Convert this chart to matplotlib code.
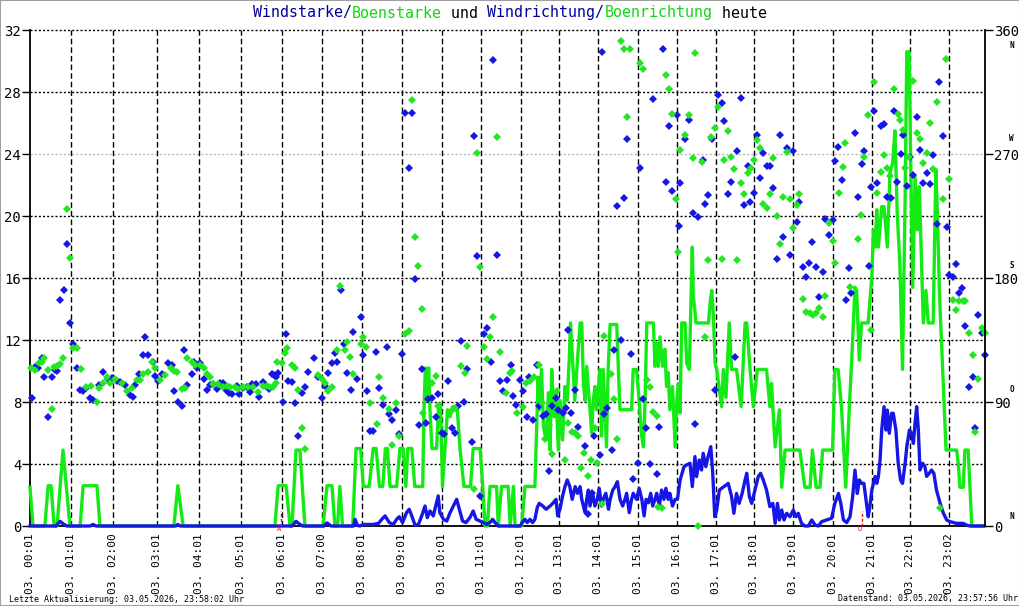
import matplotlib
matplotlib.use("Agg")
import matplotlib.pyplot as plt
from matplotlib.patches import Rectangle

# --- Achsenbeschriftung (Messwert-Index, ca. 5 min pro Schritt) ---
tick_pos = [0, 12.3, 25.2, 38.4, 51.1, 63.8, 76.4, 88.4, 100.5, 112.6, 124.8, 136.6,
            148.7, 160.4, 172.2, 184.2, 196.0, 207.8, 219.5, 231.3, 243.2, 255.1, 266.8, 278.6]
tick_labels = ["03. 00:01", "03. 01:01", "03. 02:00", "03. 03:01", "03. 04:01", "03. 05:01",
               "03. 06:01", "03. 07:00", "03. 08:01", "03. 09:01", "03. 10:01", "03. 11:01",
               "03. 12:01", "03. 13:01", "03. 14:01", "03. 15:01", "03. 16:01", "03. 17:01",
               "03. 18:01", "03. 19:01", "03. 20:01", "03. 21:01", "03. 22:01", "03. 23:02"]

# --- Boenstarke (gruen) ---
gust_idx = [0.0, 0.9, 4.5, 5.5, 6.4, 7.3, 8.2, 10.0, 12.1, 15.2, 16.1, 20.3, 21.2, 43.6, 44.8, 46.4,
            74.2, 75.2, 77.6, 78.8, 79.4, 80.6, 81.8, 83.3, 88.8, 90.0, 91.5, 92.4, 93.2, 93.9, 94.7,
            97.8, 98.8, 100.2, 101.0, 102.8, 104.0, 104.9, 105.9, 106.9, 107.7, 108.3, 109.1, 111.1,
            112.1, 113.1, 113.9, 114.5, 115.7, 116.6, 119.0, 119.4, 119.8, 120.4, 120.8, 121.2, 121.8,
            123.2, 123.8, 124.4, 125.0, 125.8, 126.5, 127.3, 128.1, 128.8, 129.5, 130.3, 131.5, 133.5,
            134.3, 136.4, 137.2, 137.9, 138.6, 139.4, 141.4, 141.9, 142.9, 144.9, 145.5, 146.5, 147.0,
            149.0, 150.0, 153.0, 154.0, 154.3, 155.0, 155.6, 156.4, 157.1, 157.6, 158.1, 158.8, 159.4,
            160.1, 160.6, 161.4, 162.1, 162.8, 163.4, 163.8, 164.6, 165.1, 165.9, 166.7, 167.2, 167.7,
            168.2, 168.7, 169.7, 170.2, 170.7, 171.2, 171.7, 172.7, 173.2, 173.7, 174.7, 175.2, 175.8,
            177.8, 178.3, 178.8, 182.3, 182.8, 183.8, 184.6, 185.3, 185.9, 186.4, 186.9, 188.9, 189.4,
            189.9, 190.4, 190.9, 191.7, 192.4, 192.9, 193.4, 193.9, 194.7, 195.5, 196.0, 196.5,
            197.0, 197.5, 198.5, 199.0, 199.8, 200.7, 201.0, 201.5, 201.8, 205.6, 206.1, 206.6, 207.1,
            207.6, 208.1, 209.6, 210.1, 210.9, 211.9, 212.6, 214.1, 215.5, 216.7, 217.2, 218.2, 219.2,
            220.4, 223.2, 224.2, 224.7, 225.8, 227.1, 227.8, 228.8, 233.3, 234.8, 236.4, 237.1, 238.2,
            239.4, 240.2, 243.2, 243.9, 244.9, 245.9, 247.2, 248.3, 249.0, 249.5, 250.0, 250.5, 251.3,
            252.0, 254.0, 255.1, 255.6, 256.1, 256.6, 257.1, 258.1, 258.8, 259.8, 260.6, 261.4, 262.1,
            262.8, 263.6, 264.4, 265.2, 265.7, 266.4, 266.9, 267.5, 268.2, 268.9, 269.5, 270.7, 271.5,
            272.2, 273.7, 274.5, 275.0, 275.6, 276.8, 277.6, 280.8, 281.3, 281.8, 282.8, 283.3, 284.3,
            285.4, 289.0]
gust_val = [2.5, 0, 0, 2.6, 2.6, 0, 0, 4.9, 0, 0, 2.6, 2.6, 0, 0, 2.6, 0,
            0, 2.6, 2.6, 0, 0, 4.9, 4.9, 0, 0, 2.6, 2.6, 0, 0, 2.55, 0,
            0, 5.0, 5.0, 2.55, 2.55, 5.0, 5.0, 2.55, 2.55, 5.0, 5.0, 2.55, 2.55,
            5.0, 5.0, 2.55, 5.0, 5.0, 2.55, 2.55, 7.5, 10.2, 8.1, 10.2, 7.5, 5.0,
            5.0, 7.7, 7.9, 2.55, 5.1, 7.5, 7.05, 7.7, 7.5, 7.5, 5.0, 2.55, 2.55,
            5.0, 5.0, 2.55, 0, 0, 2.55, 2.55, 0, 2.55, 2.55, 0, 2.55, 0,
            0, 2.55, 2.55, 9.6, 7.5, 10.1, 6.4, 5.55, 8.6, 4.9, 10.1, 7.05, 8.6,
            4.9, 8.1, 5.55, 9.0, 8.1, 10.7, 13.1, 10.1, 8.1, 10.7, 13.1, 13.1, 9.2,
            8.1, 10.3, 7.5, 6.0, 8.1, 9.0, 7.5, 10.1, 5.8, 10.1, 5.1, 10.1, 13.0,
            13.0, 10.1, 7.5, 7.5, 10.1, 10.1, 8.1, 5.9, 5.1, 8.1, 13.1, 13.1, 10.3,
            11.8, 10.3, 12.2, 10.3, 11.4, 9.0, 9.9, 7.5, 9.0, 5.1, 8.1, 9.2,
            7.3, 13.1, 13.1, 10.5, 10.1, 18.0, 14.8, 13.9, 13.1, 13.1, 14.4, 15.2, 13.5,
            10.5, 10.1, 7.7, 10.1, 8.3, 13.1, 10.1, 10.1, 7.7, 13.1, 13.1, 10.1, 7.7,
            10.1, 10.1, 7.7, 9.2, 5.1, 7.5, 2.5, 4.9, 4.9, 2.5, 2.5, 4.9, 2.5,
            2.5, 4.9, 4.9, 10.1, 10.1, 7.7, 2.5, 7.7, 10.7, 13.1, 15.4, 15.2, 10.7,
            13.1, 13.1, 16.1, 19.1, 18.0, 20.4, 18.0, 20.6, 20.6, 18.0, 22.8, 23.4, 25.5,
            20.2, 16.9, 10.1, 21.2, 30.6, 30.6, 23.4, 15.4, 22.5, 19.1, 21.9, 13.1, 15.2,
            13.1, 13.1, 23.0, 20.0, 15.0, 9.0, 4.9, 4.9, 4.0, 2.5, 2.5, 4.9, 4.9,
            0, 0]

# --- Windstarke (blau) ---
wind_idx = [0, 7.9, 9.1, 10.3, 11.2, 18.2, 19.1, 20.0, 44.2, 44.8, 45.5, 79.4, 80.6, 81.8, 82.7,
            89.1, 90.0, 91.2, 98.0, 98.5, 99.2, 100.0, 101.0, 104.0, 105.6, 106.6, 107.6, 108.9,
            110.1, 111.1, 111.9, 112.9, 114.1, 114.9, 115.7, 116.7, 117.7, 118.7, 119.7, 120.4,
            121.2, 122.2, 123.2, 123.7, 124.2, 125.3, 126.3, 127.3, 128.3, 129.3, 130.1, 131.1,
            132.1, 133.3, 134.3, 135.2, 136.4, 137.4, 138.4, 139.4, 140.2, 140.9, 141.9, 148.5,
            149.3, 150.0, 150.7, 151.5, 152.3, 153.0, 153.7, 154.3, 155.4, 156.4, 157.6, 158.6,
            159.4, 159.9, 160.6, 161.4, 162.1, 162.8, 163.6, 164.3, 165.2, 165.9, 166.7, 167.2,
            168.2, 168.7, 169.2, 169.7, 170.5, 171.2, 171.9, 172.5, 173.2, 173.7, 174.5, 175.3,
            175.8, 176.6, 177.3, 178.0, 178.8, 179.6, 180.3, 180.8, 181.6, 182.3, 182.8, 183.8,
            184.6, 185.4, 186.1, 186.7, 187.4, 188.1, 188.7, 189.4, 189.9, 190.7, 191.4, 192.1,
            192.7, 193.4, 193.9, 194.7, 195.5, 196.2, 197.0, 198.2, 199.0, 200.0, 200.7, 201.5,
            202.0, 202.8, 203.5, 204.0, 204.8, 205.5, 206.3, 206.9, 207.5, 208.1, 208.9, 209.6,
            211.6, 212.6, 213.3, 214.1, 214.9, 215.8, 216.7, 217.2, 218.0, 218.7, 219.7, 220.7,
            221.4, 222.2, 223.2, 224.2, 225.1, 225.8, 226.5, 227.1, 227.8, 228.5, 229.3, 230.3,
            231.3, 232.1, 232.8, 233.8, 234.8, 235.9, 236.9, 237.9, 238.9, 239.9, 241.4, 242.9,
            243.9, 245.0, 245.7, 246.5, 247.5, 248.5, 249.3, 250.0, 250.7, 251.3, 252.0, 252.7,
            253.5, 254.0, 254.5, 255.1, 255.6, 256.1, 256.6, 257.1, 257.6, 258.1, 258.8, 259.4,
            259.8, 260.4, 261.1, 261.6, 262.4, 263.1, 263.8, 264.4, 265.2, 265.7, 266.5, 267.2,
            267.7, 268.2, 268.7, 269.2, 269.7, 270.5, 271.2, 271.7, 272.5, 273.2, 273.9, 274.7,
            275.8, 276.8, 277.8, 278.8, 280.8, 282.8, 283.8, 284.8, 289.0]
wind_val = [0, 0, 0.3, 0.1, 0, 0, 0.1, 0, 0, 0.1, 0, 0, 0.3, 0.1, 0,
            0, 0.2, 0, 0, 0.43, 0.04, 0, 0.1, 0.1, 0.17, 0.43, 0.65, 0.22,
            0.1, 0.43, 0.6, 0.22, 0.86, 1.08, 0.65, 0.04, 0.1, 0.65, 1.29, 0.54,
            0.97, 0.65, 1.5, 1.94, 0.86, 0.43, 0.32, 0.86, 1.29, 1.72, 1.08, 0.32,
            0.22, 0.54, 0.97, 0.43, 0.32, 0.22, 0.1, 0.22, 0.43, 0.22, 0, 0,
            0.26, 0.43, 0.22, 0.43, 0.22, 0.43, 1.18, 1.46, 1.29, 1.08, 1.29, 1.5,
            1.72, 0.65, 1.08, 1.94, 2.54, 2.97, 2.54, 1.72, 2.54, 2.11, 2.54, 1.72,
            0.86, 1.72, 2.32, 1.29, 2.11, 1.29, 1.72, 2.43, 1.29, 1.72, 2.11, 1.08,
            1.72, 2.32, 2.54, 2.86, 1.72, 1.29, 1.72, 2.11, 0.86, 1.72, 2.11, 1.72,
            2.43, 1.72, 0.65, 1.72, 1.5, 2.11, 1.29, 1.72, 2.11, 1.29, 2.32, 1.72,
            2.43, 1.72, 2.11, 1.29, 1.72, 1.72, 2.97, 3.83, 3.94, 4.05, 2.54, 4.48,
            3.19, 4.26, 3.61, 4.69, 3.83, 4.48, 5.12, 3.4, 0.6, 1.03, 2.32, 2.43,
            2.75, 1.9, 0.82, 2.1, 1.46, 2.1, 2.97, 3.4, 1.9, 1.46, 2.32, 3.2,
            3.4, 2.97, 2.32, 1.25, 1.46, 0.17, 1.46, 0.39, 1.03, 0.39, 0.82, 0.6,
            1.03, 0.6, 0.82, 0.17, 0, 0, 0.39, 0.06, 0, 0.28, 0.39, 0.5,
            1.46, 2.1, 1.46, 0.39, 0.22, 0.6, 1.9, 3.61, 2.1, 2.97, 2.75, 2.75,
            1.46, 0.6, 1.25, 2.32, 2.75, 3.2, 2.75, 3.2, 4.26, 6.19, 7.7, 6.19,
            7.48, 5.98, 7.27, 7.27, 6.19, 4.05, 2.97, 2.75, 4.05, 5.12, 6.19, 5.98,
            5.33, 6.62, 7.7, 6.19, 3.61, 4.05, 3.83, 3.2, 3.4, 3.61, 3.4, 2.32,
            1.46, 0.82, 0.39, 0.28, 0.17, 0.17, 0.06, 0, 0]

# --- Windrichtung (blau, Grad) ---
dir_idx = [0.5, 1.5, 2.5, 3.5, 4.3, 5.4, 6.6, 7.6, 8.3, 9.1, 10.4, 11.3, 12.1, 13.1, 14.3, 15.2,
           16.2, 17.0, 18.2, 19.2, 21.0, 22.2, 23.7, 24.8, 26.3, 27.3, 28.8, 30.3, 31.1, 31.8, 33.1,
           34.2, 34.8, 35.8, 37.2, 37.9, 38.9, 39.9, 41.9, 42.9, 43.6, 44.9, 46.0, 46.7, 47.7, 49.0,
           49.8, 50.7, 51.5, 52.7, 53.7, 54.5, 55.5, 56.6, 57.6, 58.4, 59.4, 60.4, 61.1, 62.6, 63.4,
           64.6, 65.7, 66.7, 67.2, 68.5, 69.5, 70.5, 71.5, 72.5, 73.2, 73.9, 74.5, 75.2, 76.6, 77.5,
           78.3, 79.3, 80.3, 81.3, 82.3, 83.3, 84.3, 86.1, 87.4, 88.4, 89.4, 90.4, 91.4, 92.4, 93.1,
           94.2, 95.2, 96.0, 97.2, 98.0, 99.2, 100.2, 101.0, 102.0, 103.0, 104.0, 104.8, 105.8, 107.1,
           108.1, 108.9, 109.8, 110.9, 111.9, 112.8, 113.7, 114.9, 115.8, 116.8, 117.8, 118.8, 119.9,
           120.7, 121.7, 122.9, 123.7, 124.8, 125.5, 126.8, 127.8, 128.8, 129.8, 130.7, 131.5, 132.5,
           133.8, 134.6, 135.5, 136.4, 137.6, 138.6, 139.6, 140.4, 141.6, 142.4, 143.4, 144.5, 145.7,
           146.5, 147.3, 148.5, 149.5, 150.5, 151.3, 152.3, 153.5, 154.3, 155.4, 156.3, 157.4, 158.2,
           159.3, 160.1, 161.4, 162.4, 163.1, 163.9, 165.2, 166.2, 168.2, 169.2, 170.2, 171.0, 172.7,
           173.2, 174.0, 174.8, 176.3, 177.1, 177.9, 179.0, 180.1, 181.0, 182.0, 182.6, 184.2, 184.9,
           185.9, 186.7, 187.9, 188.9, 189.9, 190.7, 191.7, 192.7, 193.6, 194.5, 196.0, 196.8,
           197.0, 198.5, 199.8, 200.8, 201.5, 202.5, 203.8, 204.5, 205.5, 206.6, 207.6, 208.6, 209.6,
           210.4, 211.6, 212.4, 213.6, 214.3, 215.5, 216.5, 217.5, 218.2, 219.4, 220.4, 221.2, 222.2,
           223.4, 224.2, 225.2, 226.5, 227.3, 228.3, 229.3, 230.3, 231.3, 232.3, 233.1, 234.3, 235.2,
           236.2, 237.1, 238.2, 239.2, 240.2, 241.0, 242.2, 243.2, 243.9, 244.9, 246.2, 247.2, 248.2,
           248.9, 250.0, 251.0, 252.0, 252.7, 254.2, 254.8, 255.8, 256.8, 258.0, 258.8, 259.8, 260.8,
           261.9, 262.8, 263.8, 264.6, 265.8, 266.7, 267.7, 268.7, 269.7, 270.7, 271.7, 272.7, 273.7,
           274.8, 275.5, 276.8, 277.8, 278.6, 279.6, 280.6, 281.6, 282.4, 283.4, 284.6, 285.7, 286.5,
           287.4, 288.4, 289.4]
dir_deg = [92.7, 115.6, 114.5, 121.7, 107.9, 78.9, 107.9, 113.2, 112.7, 164.0, 171.3, 204.5, 147.1,
           132.1, 114.5, 98.7, 98.2, 99.9, 92.7, 91.5, 102.1, 112.0, 106.5, 107.6, 105.5, 104.7,
           102.3, 95.1, 93.8, 102.3, 110.3, 124.1, 137.0, 124.1, 119.3, 108.9, 105.5, 110.3, 118.1,
           116.9, 98.2, 90.2, 87.1, 127.7, 102.3, 110.3, 119.3, 114.5, 118.1, 106.5, 98.7, 102.3,
           103.1, 99.2, 103.6, 103.6, 98.7, 96.3, 95.8, 101.6, 95.8, 99.9, 100.7, 97.5, 102.8, 103.1,
           93.8, 104.7, 101.6, 99.2, 110.3, 109.6, 107.9, 111.3, 90.2, 139.1, 105.5, 104.7, 89.5,
           65.3, 96.7, 100.7, 112.0, 121.7, 107.9, 92.7, 101.6, 111.3, 118.1, 125.8, 119.3,
           171.3, 132.1, 110.8, 98.7, 140.6, 106.5, 151.5, 123.9, 98.0, 68.7, 68.7, 126.1, 99.9, 87.6,
           129.7, 81.3, 76.9, 84.2, 66.6, 124.6, 299.5, 259.6, 299.5, 179.3, 73.1, 113.7, 74.5,
           92.0, 92.7, 78.9, 95.6, 67.7, 66.6, 105.2, 70.9, 67.7, 87.1, 134.1, 89.8, 113.7,
           60.7, 282.8, 195.7, 21.8, 139.1, 143.5, 119.0, 338.0, 196.5, 105.2, 98.0, 106.0, 116.6,
           94.1, 87.6, 106.0, 98.0, 78.9, 108.4, 76.9, 116.6, 87.1, 79.8, 81.3, 39.9, 87.1,
           92.7, 84.2, 82.2, 85.4, 142.3, 82.2, 98.7, 71.6, 58.1, 8.7, 23.7, 65.3, 51.5,
           343.8, 81.3, 85.6, 55.2, 127.7, 232.0, 135.0, 237.9, 280.7, 124.8, 33.9, 45.5, 259.6,
           92.2, 71.3, 45.0, 309.7, 37.7, 71.6, 346.0, 249.5, 290.1, 242.9, 298.1, 217.7,
           248.7, 280.7, 294.7, 227.0, 73.8, 224.1, 265.6, 233.7, 240.2, 280.7, 98.7, 312.8, 306.8,
           294.0, 241.0, 249.5, 122.4, 272.2, 310.4, 233.0, 261.3, 235.4, 241.5, 283.8, 252.4, 270.5,
           261.3, 261.3, 245.1, 193.8, 283.6, 209.5, 274.1, 196.7, 272.2, 220.4, 234.9, 187.8, 180.5,
           190.7, 206.1, 187.8, 166.4, 184.1, 222.6, 211.2, 222.1, 264.9, 274.9, 251.1, 164.0, 187.0,
           168.9, 285.0, 238.6, 262.7, 272.2, 188.7, 246.3, 301.2, 248.7, 290.3, 291.8, 238.6, 237.9,
           301.2, 249.5, 270.0, 283.8, 246.8, 268.0, 254.5, 296.6, 272.9, 248.7, 256.0, 248.2, 269.3,
           219.2, 322.0, 283.1, 216.8, 182.2, 180.5, 189.9, 168.9, 172.5, 145.2, 100.7, 107.9, 70.9,
           153.1, 139.9, 124.1]

# --- Boenrichtung (gruen, Grad) ---
gdir_idx = [0.2, 1.5, 2.8, 3.5, 4.3, 5.4, 6.6, 7.3, 8.3, 9.1, 10.1, 11.3, 12.2, 12.9, 14.3, 15.4,
            17.0, 18.4, 20.2, 21.0, 22.2, 23.2, 24.2, 25.8, 27.8, 29.3, 30.8, 32.3, 33.3, 34.3, 35.8,
            36.9, 37.9, 39.4, 40.9, 42.6, 43.6, 44.6, 46.0, 47.0, 47.7, 49.0, 50.0, 51.5, 52.7, 53.7,
            54.5, 55.5, 57.1, 58.4, 59.6, 60.6, 62.1, 63.1, 64.6, 66.2, 67.7, 69.2, 70.7, 71.7, 72.7,
            73.7, 74.5, 74.9, 76.3, 77.3, 78.0, 79.3, 80.3, 81.3, 82.3, 83.3, 87.4, 88.4, 89.4, 90.4,
            91.4, 93.1, 93.9,
            95.5, 96.2, 97.0, 98.0, 100.2, 100.8, 101.8, 103.0, 105.1, 105.8, 107.1, 108.9, 109.8,
            110.9, 111.9, 113.6, 114.9, 115.8, 116.8, 117.7, 118.9, 119.2, 121.7, 122.9, 123.7, 127.8,
            128.8, 130.7, 131.7, 132.5, 134.6, 135.5, 136.5, 137.6, 138.4, 139.4, 140.4, 141.6, 142.4,
            144.2, 145.5, 146.2, 147.5, 149.3, 150.3, 151.5, 152.8, 154.3, 155.1, 156.1, 157.4, 158.2,
            159.8, 162.1, 163.1, 164.2, 165.2, 166.2, 167.1, 168.0, 169.2, 170.1, 171.2, 171.7, 173.2,
            174.0, 176.0, 177.0, 178.0, 179.0, 180.0, 181.0, 181.9, 184.9, 185.8, 186.9, 187.9, 188.9,
            189.9, 190.4, 191.4, 192.8, 193.7, 194.5, 195.8, 196.5,
            197.0, 198.5, 199.8, 200.8, 201.5, 202.5, 203.5, 204.5, 205.5, 206.4, 207.6, 208.6, 209.6,
            210.4, 211.6, 212.4, 213.4, 214.3, 215.5, 216.5, 217.5, 218.4, 219.4, 220.4, 221.2, 222.2,
            223.4, 224.2, 225.2, 226.5, 227.3, 228.3, 229.3, 230.3, 231.3, 232.3, 233.1, 234.3, 235.2,
            236.4, 237.2, 238.2, 239.2, 240.2, 240.9, 242.1, 243.2, 244.0, 245.1, 246.3, 247.1, 248.5,
            251.0, 251.8, 252.7, 254.0, 254.9, 255.8, 256.8, 257.9, 258.9, 259.8, 260.6, 261.8, 263.0,
            263.6, 264.5, 265.2, 266.5, 267.7, 268.7, 269.7, 270.7, 271.7, 272.7, 273.7, 274.8, 275.8,
            276.8, 277.6, 278.6, 279.6, 280.6, 281.6, 282.6, 283.3, 284.6, 285.7, 286.4, 287.4, 288.4,
            289.4]
gdir_deg = [114.5, 113.2, 118.5, 119.3, 121.7, 113.2, 84.7, 115.6, 116.1, 117.6, 121.7, 229.9, 194.7,
            129.0, 129.0, 113.7, 100.7, 101.6, 90.2, 99.9, 104.0, 107.9, 104.0, 106.5, 104.0, 98.2,
            99.9, 106.0, 106.0, 110.3, 112.0, 119.3, 114.5, 106.0, 109.6, 114.5, 112.7, 112.0, 99.2,
            99.9, 121.7, 119.3, 116.9, 116.9, 114.5, 110.3, 107.9, 103.1, 103.1, 100.7, 101.6, 100.7,
            100.7, 99.2, 100.7, 100.7, 100.7, 97.5, 101.6, 101.6, 100.7, 100.7, 104.0, 119.3, 118.5,
            125.8, 129.0, 116.9, 114.5, 98.7, 70.9, 55.7, 109.6, 106.5, 103.6, 98.2, 100.7, 127.7,
            174.2,
            127.7, 133.8, 122.4, 110.3, 132.1, 137.0, 129.7, 89.1, 73.8, 108.4, 92.7, 84.7, 58.6,
            89.1, 65.3, 139.1, 141.7, 309.0, 209.5, 188.5, 157.3, 81.8, 103.6, 108.7, 87.1, 84.2,
            85.9, 116.1, 111.3, 130.6, 26.9, 270.5, 187.8, 129.7, 121.0, 137.0, 151.9, 282.1, 126.1,
            96.7, 110.8, 112.7, 81.8, 86.6, 104.0, 105.5, 108.4, 116.9, 89.1, 62.9, 73.5, 52.3,
            98.2, 47.9, 74.5, 68.4, 67.3, 65.3, 42.3, 52.8, 36.3, 47.9, 70.9, 45.5, 16.0,
            137.9, 110.3, 92.4, 62.9, 351.8, 346.0, 296.6, 346.0, 336.1, 331.5, 106.0, 100.7, 83.0,
            79.8, 14.0, 12.8, 327.3, 317.0, 298.8, 237.1, 198.7,
            272.9, 283.8, 298.3, 267.3, 343.1, 0.0, 264.4, 137.4, 193.1, 282.6, 288.7, 303.9, 193.6,
            265.6, 286.7, 267.6, 258.9, 193.1, 248.7, 240.8, 256.0, 259.6, 265.6, 280.2, 274.1, 233.7,
            230.6, 240.8, 266.9, 225.0, 204.5, 239.0, 271.7, 237.1, 216.1, 233.0, 240.8, 164.8, 155.5,
            154.4, 153.1, 154.4, 158.4, 151.9, 167.2, 220.1, 206.9, 190.7, 241.5, 260.8, 278.2, 173.7,
            208.1, 225.7, 267.6, 298.3, 142.3, 322.0, 241.5, 256.7, 269.3, 259.6, 254.0, 317.0, 298.8,
            294.7, 287.4, 259.6, 267.6, 323.0, 285.0, 280.7, 263.7, 270.5, 292.7, 258.9, 308.0, 12.8,
            237.1, 338.7, 251.6, 164.0, 156.8, 163.5, 163.5, 163.3, 140.3, 124.1, 68.0, 106.5, 143.5,
            140.3]

sunrise_idx = 76.1
sunset_idx = 252.1

navy = '#00009c'
green_txt = '#10d810'
col_gust = '#14ea14'
col_wind = '#1616e6'

plt.rcParams['font.family'] = ['DejaVu Sans Mono', 'DejaVu Sans']

W, H, DPI = 1020, 606, 100
fig = plt.figure(figsize=(W / DPI, H / DPI), dpi=DPI, facecolor='white')
ax = fig.add_axes([30 / W, 1 - 526 / H, 955 / W, 496 / H])

# Gitter
for v in [4, 8, 12, 16, 20, 28, 32]:
    ax.axhline(v, color='black', lw=1, ls=(0, (1.5, 1.5)), clip_on=False, zorder=1)
ax.axhline(24, color='#b8b8b8', lw=1, ls=(0, (1.5, 1.5)), zorder=1)
for p in tick_pos[1:]:
    ax.axvline(p, color='black', lw=1, ls=(0, (4, 2.2)), zorder=1)

# Linien
ax.plot(gust_idx, gust_val, color=col_gust, lw=2.4, clip_on=False, zorder=3)
ax.plot(wind_idx, wind_val, color=col_wind, lw=2.4, clip_on=False, zorder=4)

# Sonnenauf-/untergang
for xi, lab in [(sunrise_idx, 'A'), (sunset_idx, 'U')]:
    ax.plot([xi, xi], [0, 1.0], color='red', lw=1, ls=(0, (2, 1.5)), zorder=5)
    ax.text(xi - 0.6, -0.02, lab, color='red', fontsize=5, ha='center', va='top', zorder=6)

ax.set_xlim(0, 289.4)
ax.set_ylim(0, 32)
ax.set_yticks(range(0, 33, 4))
ax.set_xticks(tick_pos)
ax.set_xticklabels(tick_labels, rotation=90, fontsize=8)
ax.tick_params(axis='x', length=0, pad=5)
ax.tick_params(axis='y', length=5.8, width=1, pad=0.5, labelsize=10, direction='out')
for s in ['top', 'right']:
    ax.spines[s].set_visible(False)
for s in ['left', 'bottom']:
    ax.spines[s].set_linewidth(1.3)

# Richtungen
ax2 = ax.twinx()
ax2.set_ylim(0, 360)
ax2.set_yticks([0, 90, 180, 270, 360])
ax2.tick_params(axis='y', length=5.8, width=1, pad=0.5, labelsize=10, direction='out')
for s in ['top', 'left', 'bottom']:
    ax2.spines[s].set_visible(False)
ax2.spines['right'].set_linewidth(1.3)
ax2.plot(dir_idx, dir_deg, ls='none', marker='D', ms=3.9, mew=0, color=col_wind, clip_on=False)
ax2.plot(gdir_idx, gdir_deg, ls='none', marker='D', ms=3.9, mew=0, color='#22e622', clip_on=False)

trans = ax2.get_yaxis_transform()
for lab, deg in [('N', 349), ('W', 281), ('S', 189), ('O', 99), ('N', 7)]:
    ax2.text(1.028, deg, lab, transform=trans, fontsize=5.5, fontweight='bold',
             ha='center', va='center')

# Titel (mehrfarbig, Monospace)
fs_title = 10.8
cw = 0.602 * fs_title * DPI / 72 / W
parts = [("Windstarke/", navy), ("Boenstarke", green_txt), (" und ", 'black'),
         ("Windrichtung/", navy), ("Boenrichtung", green_txt), (" heute", 'black')]
total = sum(len(t) for t, _ in parts)
x = 0.5 - total * cw / 2
for t, c in parts:
    fig.text(x, 1 - 13 / H, t, color=c, fontsize=fs_title, ha='left', va='center')
    x += len(t) * cw

fig.text(9 / W, 1 - 599 / H, "Letzte Aktualisierung: 03.05.2026, 23:58:02 Uhr",
         fontsize=6, ha='left', va='center')
fig.text(1018 / W, 1 - 599 / H, "Datenstand: 03.05.2026, 23:57:56 Uhr",
         fontsize=6, ha='right', va='center')

fig.patches.append(Rectangle((0, 0), 1, 1, transform=fig.transFigure, fill=False,
                             edgecolor='#a0a0a0', lw=1.5))

fig.savefig('out.png', dpi=DPI, facecolor='white')
